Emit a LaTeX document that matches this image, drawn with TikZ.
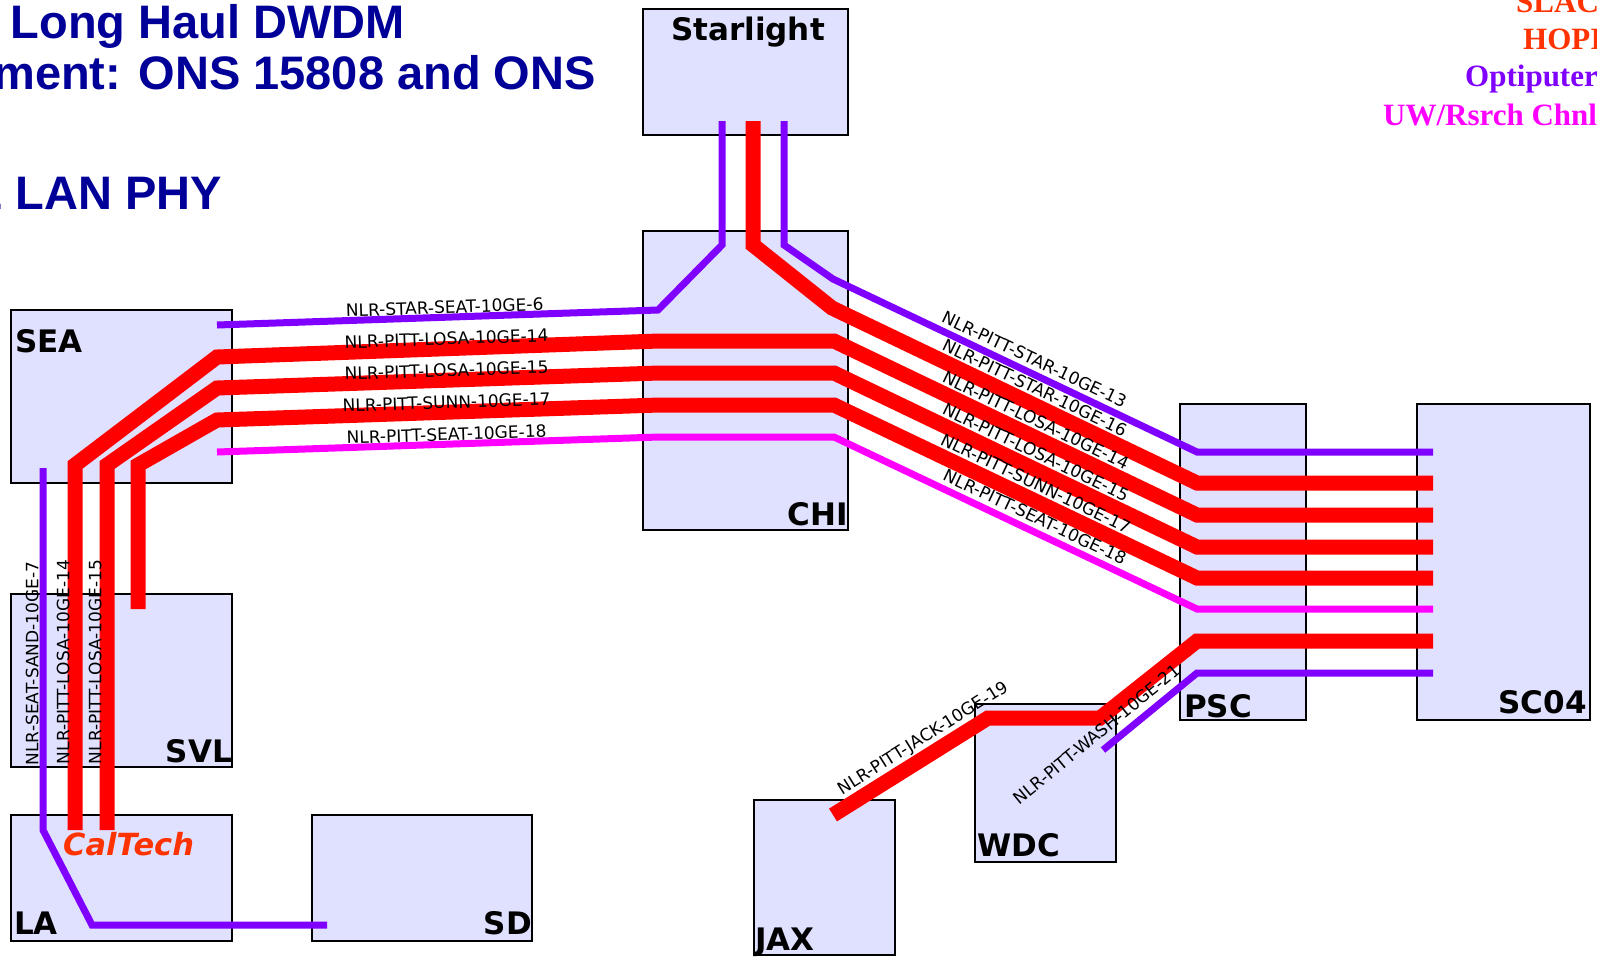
\documentclass[tikz,border=0pt]{standalone}
\usepackage{fontspec}
\setmainfont{DejaVu Sans}
\newfontfamily\titlefont{Liberation Sans}
\newfontfamily\legendfont{Liberation Serif}
\usepackage{tikz}
\usetikzlibrary{arrows.meta}
\definecolor{NLRpurple}{RGB}{128, 0, 255}
\definecolor{NLRred}{RGB}{255, 0, 0}
\definecolor{NLRmagenta}{RGB}{255, 0, 255}
\definecolor{CalOrange}{RGB}{255, 51, 0}
\definecolor{SiteFill}{RGB}{224, 224, 255}
\definecolor{TitleBlue}{RGB}{0, 0, 153}

\tikzset{
  site/.style={draw=black, line width=2.8pt, fill=SiteFill, anchor=north west, inner sep=0pt, outer sep=0pt},
  sitename/.style={font=\bfseries\fontsize{31}{31}\selectfont, inner sep=0pt},
  fibre/.style={line width=7pt},
  lambda/.style={line width=15pt},
  chan/.style={font=\fontsize{17}{18}\selectfont, text=black, inner sep=1pt, sloped},
  heading/.style={font=\titlefont\bfseries\fontsize{47}{47}\selectfont, text=TitleBlue, inner sep=0pt, anchor=base east},
  legend/.style={font=\legendfont\bfseries\fontsize{31}{31}\selectfont, inner sep=0pt, anchor=base west},
}

\begin{document}
\begin{tikzpicture}[x=1pt, y=-1pt]
\fill[white] (0,0) rectangle (1597,956);
\useasboundingbox (0,0) rectangle (1597,956);

% title and legend
\node[heading] (title1) at (405,38) {Long Haul DWDM};
\node[heading] (title2) at (596,89) {ment: ONS 15808 and ONS};
\node[heading] (title3) at (222,209) {E LAN PHY};
\node[legend, text=CalOrange] (legSLAC) at (1516,12) {SLAC};
\node[legend, text=CalOrange] (legHOPI) at (1523,49) {HOPI};
\node[legend, text=NLRpurple] (legOpti) at (1465,86) {Optiputer};
\node[legend, text=NLRmagenta] (legUW) at (1383,125) {UW/Rsrch Chnl};

% sites
\foreach \n/\x/\y/\w/\h in {sea/11/310/221/173, svl/11/594/221/173, la/11/815/221/126,
    sd/312/815/220/126, star/643/9/205/126, chi/643/231/205/299, psc/1180/404/126/316,
    sc/1417/404/173/316, wdc/975/704/141/158, jax/754/800/141/155}
  \node[site, minimum width=\w pt, minimum height=\h pt] (\n) at (\x,\y) {};
\foreach \t/\a/\x/\y in {SEA/base west/15/352, SVL/base east/232/762, LA/base west/14/934,
    SD/base east/532/934, Starlight/base/748/40, CHI/base east/848/525, PSC/base west/1184/717,
    SC04/base east/1587/713, WDC/base west/977/856, JAX/base west/755/950}
  \node[sitename, anchor=\a] (lab\t) at (\x,\y) {\t};
\node[sitename, font=\bfseries\itshape\fontsize{30.5}{31}\selectfont, text=CalOrange, anchor=base west] (caltech) at (63,855) {CalTech};

% Starlight waves
\draw[fibre, NLRpurple] (217,325) -- node[chan, pos=0.517, above=-1pt] (c6) {NLR-STAR-SEAT-10GE-6} (658,310) -- (722,245) -- (722,121);
\draw[fibre, NLRpurple] (784,121) -- (784,245) -- (833,279) -- node[chan, pos=0.537, above=3pt] (c13) {NLR-PITT-STAR-10GE-13} (1197,452) -- (1433,452);
\draw[lambda, NLRred] (753,121) -- (753,245) -- (832,308) -- node[chan, pos=0.537, above=1pt] (c16) {NLR-PITT-STAR-10GE-16} (1197,483) -- (1433,483);

% west coast waves
\draw[lambda, NLRred] (75,830) -- node[chan, pos=0.46, above=-3pt] (v14) {NLR-PITT-LOSA-10GE-14} (75,465) -- (217,357)
  -- node[chan, pos=0.52, above=-5pt] (h14) {NLR-PITT-LOSA-10GE-14} (659,341) -- (834,341)
  -- node[chan, pos=0.537, above=1pt] (d14) {NLR-PITT-LOSA-10GE-14} (1197,515) -- (1433,515);
\draw[lambda, NLRred] (107,830) -- node[chan, pos=0.46, above=-3pt] (v15) {NLR-PITT-LOSA-10GE-15} (107,465) -- (217,388)
  -- node[chan, pos=0.52, above=-5pt] (h15) {NLR-PITT-LOSA-10GE-15} (659,373) -- (834,373)
  -- node[chan, pos=0.537, above=1pt] (d15) {NLR-PITT-LOSA-10GE-15} (1197,547) -- (1433,547);
\draw[lambda, NLRred] (138,609) -- (138,465) -- (217,420)
  -- node[chan, pos=0.52, above=-5pt] (h17) {NLR-PITT-SUNN-10GE-17} (659,405) -- (834,405)
  -- node[chan, pos=0.537, above=1pt] (d17) {NLR-PITT-SUNN-10GE-17} (1197,578) -- (1433,578);
\draw[fibre, NLRmagenta] (217,452)
  -- node[chan, pos=0.52, above=-1pt] (h18) {NLR-PITT-SEAT-10GE-18} (659,437) -- (834,437)
  -- node[chan, pos=0.537, above=3pt] (d18) {NLR-PITT-SEAT-10GE-18} (1197,609) -- (1433,609);
\draw[fibre, NLRpurple] (327,925) -- (92,925) -- (43,830) -- node[chan, pos=0.46, above=0pt] (v7) {NLR-SEAT-SAND-10GE-7} (43,468);

% east coast waves
\draw[lambda, NLRred] (833,815) -- node[chan, pos=0.64, above=0pt] (c19) {NLR-PITT-JACK-10GE-19} (988,718) -- (1100,718) -- (1197,641) -- (1433,641);
\draw[fibre, NLRpurple] (1103,750) -- node[chan, pos=0.04, above=5pt] (c21) {NLR-PITT-WASH-10GE-21} (1197,673) -- (1433,673);
\end{tikzpicture}
\end{document}
